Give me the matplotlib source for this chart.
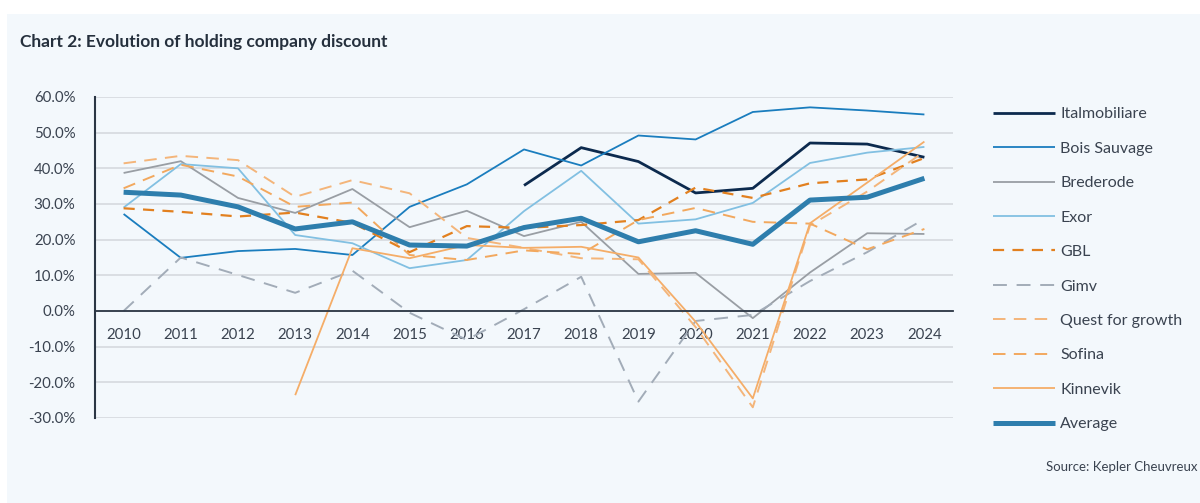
import matplotlib
matplotlib.use("Agg")
import matplotlib.pyplot as plt
from matplotlib.patches import Rectangle
import numpy as np

plt.rcParams['font.family'] = ['Lato', 'DejaVu Sans']
plt.rcParams['lines.scale_dashes'] = False

years = [str(y) for y in range(2010, 2025)]
nan = np.nan
italmobiliare = [nan, nan, nan, nan, nan, nan, nan, 35.2, 45.8, 41.9, 33.1, 34.4, 47.1, 46.8, 43.1]
bois_sauvage = [27.2, 14.9, 16.8, 17.4, 15.7, 29.2, 35.5, 45.3, 40.8, 49.2, 48.1, 55.8, 57.1, 56.2, 55.1]
brederode = [38.7, 42.0, 31.7, 27.5, 34.2, 23.5, 28.1, 21.0, 25.0, 10.4, 10.7, -2.0, 10.8, 21.8, 21.6]
exor = [29.0, 41.2, 40.0, 21.3, 19.0, 12.0, 14.3, 28.0, 39.3, 24.5, 25.7, 30.3, 41.5, 44.4, 46.0]
gbl = [28.8, 27.8, 26.5, 27.6, 24.7, 16.5, 23.8, 23.3, 24.1, 25.5, 34.6, 31.7, 35.8, 36.9, 42.9]
gimv = [0.0, 15.0, 10.1, 5.1, 11.3, -0.5, -8.1, 0.5, 9.6, -25.4, -2.8, -1.1, 8.4, 16.5, 25.8]
quest = [41.4, 43.5, 42.3, 32.0, 36.7, 33.0, 20.5, 17.7, 14.8, 14.5, -4.5, -27.0, 24.0, 33.5, 44.7]
sofina = [34.4, 41.0, 37.7, 29.2, 30.4, 15.7, 14.3, 17.0, 16.0, 25.5, 28.9, 25.0, 24.5, 17.3, 23.0]
kinnevik = [nan, nan, nan, -23.6, 17.6, 14.8, 18.5, 17.7, 18.0, 15.0, -3.0, -24.5, 24.6, 36.0, 47.5]
average = [33.3, 32.5, 29.2, 23.0, 25.0, 18.5, 18.2, 23.4, 26.0, 19.4, 22.5, 18.7, 31.1, 31.9, 37.2]

yticks = [60, 50, 40, 30, 20, 10, 0, -10, -20, -30]

series = [
    ("Italmobiliare", italmobiliare, dict(color="#0C2A4E", lw=2.0)),
    ("Bois Sauvage", bois_sauvage, dict(color="#1A7DBE", lw=1.3)),
    ("Brederode", brederode, dict(color="#999EA4", lw=1.3)),
    ("Exor", exor, dict(color="#82C0E2", lw=1.3)),
    ("GBL", gbl, dict(color="#E2801F", lw=1.6, dashes=(8, 6))),
    ("Gimv", gimv, dict(color="#A2ACB8", lw=1.4, dashes=(10, 7))),
    ("Quest for growth", quest, dict(color="#F4B57A", lw=1.4, dashes=(9, 6))),
    ("Sofina", sofina, dict(color="#F2A85E", lw=1.4, dashes=(9, 6))),
    ("Kinnevik", kinnevik, dict(color="#F5AD68", lw=1.3)),
    ("Average", average, dict(color="#2E7EAD", lw=3.6)),
]

W, H = 1200, 503
fig = plt.figure(figsize=(W / 100, H / 100), dpi=100)
fig.patch.set_facecolor("white")
bg = "#F3F8FC"
fig.patches.append(Rectangle((7 / W, 0), 1, 1 - 14 / H, transform=fig.transFigure,
                             facecolor=bg, edgecolor="none", zorder=-10))

ax = fig.add_axes([95 / W, 1 - 418 / H, (953 - 95) / W, (418 - 97) / H])
ax.set_facecolor(bg)
x = np.arange(len(years))
for name, vals, st in series:
    kw = dict(st)
    dashes = kw.pop("dashes", None)
    ln, = ax.plot(x, vals, label=name, solid_capstyle="butt", **kw)
    if dashes is not None:
        ln.set_dashes(dashes)
        ln.set_dash_capstyle("butt")

ax.set_xlim(-0.5, len(years) - 0.5)
ax.set_ylim(-30, 60)
ax.set_yticks(yticks)
ax.set_yticklabels([f"{v:.1f}%" for v in yticks])
ax.set_xticks(x)
ax.set_xticklabels(years)
ax.grid(axis="y", color="#D8DCE1", lw=1.3)
ax.grid(axis="x", visible=False)
ax.set_axisbelow(True)
for s in ["top", "right"]:
    ax.spines[s].set_visible(False)
ax.spines["bottom"].set_position(("data", 0))
ax.spines["bottom"].set_color("#2B3644")
ax.spines["bottom"].set_linewidth(1.3)
ax.spines["left"].set_color("#2B3644")
ax.spines["left"].set_linewidth(1.5)
ax.tick_params(axis="both", length=0, labelsize=10.8, colors="#3A4350")
ax.tick_params(axis="x", pad=12)
ax.tick_params(axis="y", pad=14)

leg = fig.legend(loc="upper left", bbox_to_anchor=(993 / W, 1 - 107 / H), frameon=False,
                 fontsize=11.5, handlelength=3.9, handletextpad=0.3, labelspacing=1.27,
                 borderaxespad=0, borderpad=0)
for t in leg.get_texts():
    t.set_color("#3A4350")

fig.text(20 / W, 1 - 42 / H, "Chart 2: Evolution of holding company discount", fontsize=12.5,
         fontweight="bold", color="#25303D", va="center", ha="left")
fig.text(1198 / W, 1 - 467 / H, "Source: Kepler Cheuvreux", fontsize=9.5, color="#3A4350",
         va="center", ha="right")

fig.savefig("out.png", dpi=100, facecolor=fig.get_facecolor())
